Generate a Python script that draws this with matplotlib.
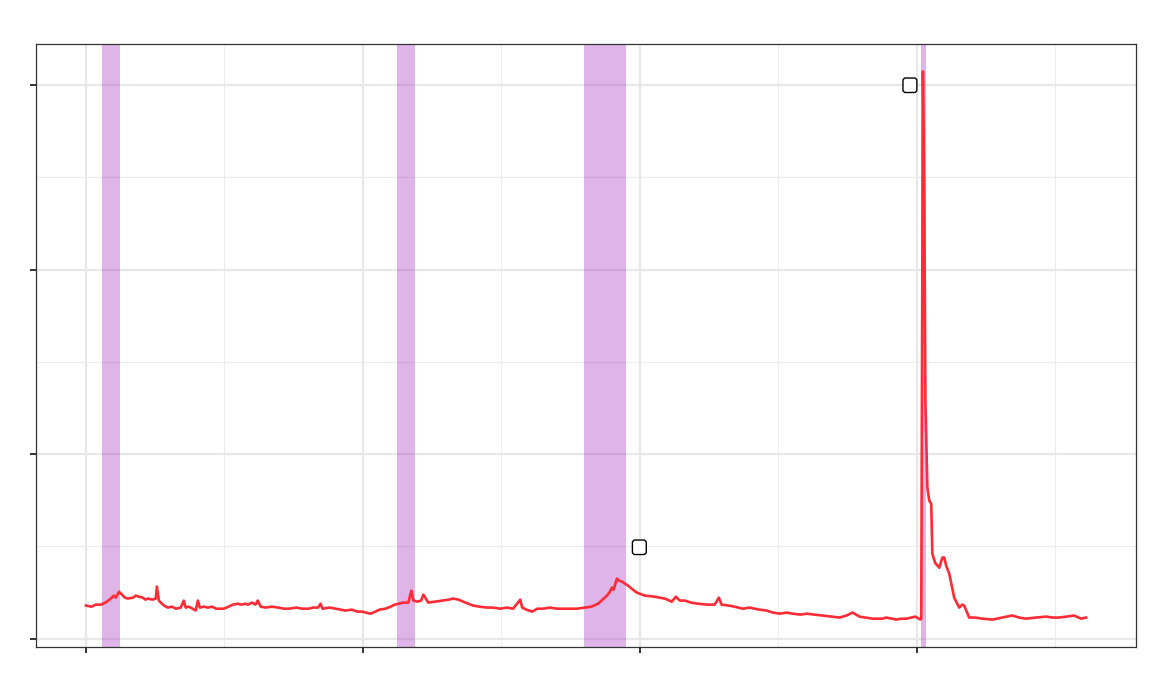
import matplotlib
matplotlib.use("Agg")
import matplotlib.pyplot as plt

# series (x: major tick = 1 unit, y: major tick = 1 unit)
x_vals = [0.000, 0.020, 0.035, 0.054, 0.070, 0.090, 0.100, 0.108, 0.119, 0.130,
          0.140, 0.151, 0.170, 0.180, 0.191, 0.205, 0.215, 0.223, 0.240, 0.252,
          0.256, 0.263, 0.270, 0.282, 0.295, 0.310, 0.325, 0.342, 0.353, 0.360,
          0.370, 0.378, 0.396, 0.404, 0.411, 0.425, 0.440, 0.455, 0.470, 0.497,
          0.515, 0.530, 0.548, 0.560, 0.577, 0.584, 0.600, 0.612, 0.620, 0.631,
          0.649, 0.670, 0.695, 0.715, 0.732, 0.760, 0.780, 0.804, 0.820, 0.838,
          0.847, 0.854, 0.880, 0.901, 0.920, 0.937, 0.960, 0.980, 0.998, 1.010,
          1.027, 1.045, 1.060, 1.081, 1.100, 1.115, 1.128, 1.145, 1.164, 1.175,
          1.182, 1.196, 1.210, 1.218, 1.236, 1.260, 1.290, 1.310, 1.326, 1.345,
          1.362, 1.380, 1.398, 1.420, 1.449, 1.470, 1.495, 1.520, 1.542, 1.568,
          1.575, 1.590, 1.611, 1.630, 1.650, 1.675, 1.701, 1.740, 1.773, 1.802,
          1.825, 1.849, 1.865, 1.881, 1.890, 1.899, 1.905, 1.917, 1.925, 1.935,
          1.957, 1.975, 1.989, 2.018, 2.054, 2.070, 2.090, 2.115, 2.130, 2.144,
          2.162, 2.185, 2.209, 2.245, 2.270, 2.285, 2.295, 2.320, 2.342, 2.371,
          2.396, 2.430, 2.458, 2.480, 2.505, 2.530, 2.551, 2.580, 2.602, 2.630,
          2.659, 2.690, 2.721, 2.746, 2.768, 2.793, 2.815, 2.840, 2.876, 2.890,
          2.926, 2.945, 2.962, 2.980, 2.995, 3.013, 3.016, 3.022, 3.027, 3.031,
          3.038, 3.045, 3.052, 3.056, 3.066, 3.081, 3.092, 3.099, 3.106, 3.117,
          3.135, 3.146, 3.153, 3.164, 3.171, 3.189, 3.210, 3.236, 3.272, 3.290,
          3.308, 3.325, 3.344, 3.370, 3.395, 3.430, 3.467, 3.490, 3.514, 3.540,
          3.568, 3.593, 3.611]
y_vals = [0.179, 0.173, 0.184, 0.184, 0.195, 0.217, 0.233, 0.222, 0.254, 0.238,
          0.222, 0.217, 0.222, 0.233, 0.227, 0.222, 0.211, 0.217, 0.211, 0.217,
          0.282, 0.206, 0.195, 0.179, 0.168, 0.173, 0.162, 0.168, 0.206, 0.168,
          0.173, 0.168, 0.152, 0.206, 0.168, 0.173, 0.168, 0.173, 0.162, 0.162,
          0.173, 0.184, 0.189, 0.184, 0.189, 0.184, 0.195, 0.184, 0.206, 0.173,
          0.168, 0.173, 0.168, 0.162, 0.162, 0.168, 0.162, 0.162, 0.168, 0.168,
          0.189, 0.162, 0.168, 0.162, 0.157, 0.152, 0.157, 0.146, 0.146, 0.141,
          0.135, 0.146, 0.157, 0.162, 0.173, 0.184, 0.189, 0.195, 0.195, 0.260,
          0.206, 0.200, 0.206, 0.238, 0.195, 0.200, 0.206, 0.211, 0.217, 0.211,
          0.200, 0.189, 0.179, 0.173, 0.168, 0.168, 0.162, 0.168, 0.162, 0.211,
          0.168, 0.157, 0.146, 0.162, 0.162, 0.168, 0.162, 0.162, 0.162, 0.168,
          0.173, 0.189, 0.211, 0.233, 0.249, 0.276, 0.265, 0.325, 0.314, 0.309,
          0.287, 0.265, 0.249, 0.233, 0.227, 0.222, 0.217, 0.200, 0.227, 0.206,
          0.206, 0.195, 0.189, 0.184, 0.184, 0.222, 0.184, 0.179, 0.173, 0.162,
          0.168, 0.157, 0.152, 0.141, 0.135, 0.141, 0.135, 0.130, 0.135, 0.130,
          0.125, 0.119, 0.114, 0.125, 0.141, 0.119, 0.114, 0.108, 0.108, 0.114,
          0.103, 0.108, 0.108, 0.114, 0.119, 0.103, 0.108, 3.075, 2.371, 1.289,
          0.818, 0.747, 0.731, 0.460, 0.411, 0.384, 0.439, 0.439, 0.395, 0.352,
          0.222, 0.189, 0.168, 0.184, 0.179, 0.114, 0.114, 0.108, 0.103, 0.108,
          0.114, 0.119, 0.125, 0.114, 0.108, 0.114, 0.119, 0.114, 0.114, 0.119,
          0.125, 0.108, 0.114]

# shaded periods
span_start = [0.058, 1.124, 1.798, 3.016]
span_end = [0.123, 1.189, 1.950, 3.034]

# labelled points (labels render as empty boxes)
label_x = [1.998, 2.975]
label_y = [0.495, 3.0]

fig = plt.figure(figsize=(11.52, 6.91), dpi=100)
ax = fig.add_axes([0.03125, 0.0637, 0.9549, 0.8726])

for s, e in zip(span_start, span_end):
    ax.axvspan(s, e, color="#A01EBE", alpha=0.33, lw=0, zorder=2)

ax.plot(x_vals, y_vals, color="#FF2B35", lw=1.9, zorder=3)

for lx, ly in zip(label_x, label_y):
    ax.text(lx, ly, "\u2003", fontsize=6, ha="center", va="center", zorder=4,
            bbox=dict(boxstyle="round,pad=0.33", fc="white", ec="black", lw=1.0))

ax.margins(x=0.05, y=0.05)

ax.set_xticks([0, 1, 2, 3])
ax.set_xticks([0.5, 1.5, 2.5, 3.5], minor=True)
ax.set_yticks([0, 1, 2, 3])
ax.set_yticks([0.5, 1.5, 2.5], minor=True)
ax.set_xticklabels([])
ax.set_yticklabels([])
ax.tick_params(which="major", length=4.5, width=1.4, color="#333333")
ax.tick_params(which="minor", length=0)

ax.grid(which="major", color="#E8E8E8", lw=1.6, zorder=0)
ax.grid(which="minor", color="#EBEBEB", lw=0.8, zorder=0)
ax.set_axisbelow(True)

for sp in ax.spines.values():
    sp.set_color("#333333")
    sp.set_linewidth(0.9)

plt.savefig("out.png", dpi=100)
